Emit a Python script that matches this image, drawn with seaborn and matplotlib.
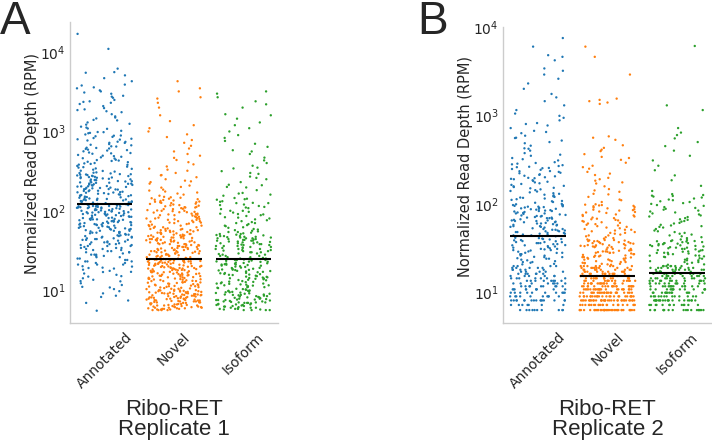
import numpy as np
import pandas as pd
import matplotlib
matplotlib.use("Agg")
import matplotlib.pyplot as plt
import seaborn as sns

groups = ["Annotated", "Novel", "Isoform"]
colors = ["#1f77b4", "#ff7f0e", "#2ca02c"]
panel_titles = ["Ribo-RET\nReplicate 1", "Ribo-RET\nReplicate 2"]
panel_letters = ["A", "B"]

# ---- Replicate 1 (RPM) ----
rep1_annotated = [
    5.5, 6.9, 7.4, 8.2, 9.1, 9.7,
    10.3, 10.8, 11.6, 12.2, 12.9, 13.5, 14.1, 14.8, 15.6, 16.2, 16.9, 17.5, 18.1, 18.7, 19.2, 19.8,
    20, 21, 21, 22, 22, 23, 24, 24, 25, 26, 26, 27, 28, 28, 29, 30, 31, 31, 32, 33, 33, 34, 35, 36,
    36, 37, 38, 38, 39, 40, 41, 41, 42, 43, 44, 44, 45, 46, 47, 47, 48, 49, 49, 50, 23, 27, 30, 34,
    37, 40, 43, 46,
    51, 52, 53, 54, 55, 56, 57, 58, 59, 60, 61, 62, 63, 64, 65, 66, 67, 68, 69, 70, 71, 72, 73, 74,
    75, 76, 77, 78, 79, 80, 82, 83, 84, 86, 87, 88, 90, 91, 92, 94, 95, 96, 98, 99, 100, 102, 103,
    105, 106, 108, 109, 111, 112, 114, 115, 117, 118, 120, 52, 56, 59, 63, 66, 70, 73, 77, 81, 85,
    89, 93, 97, 101, 104, 107, 110, 113, 116, 119, 54, 61, 67, 74, 79, 88, 96, 110,
    122, 125, 128, 130, 133, 136, 139, 142, 145, 148, 151, 154, 157, 160, 164, 167, 170, 174, 177,
    181, 185, 188, 192, 196, 200, 204, 208, 212, 216, 220, 225, 229, 234, 238, 243, 248, 253, 258,
    263, 268, 274, 279, 285, 290, 296, 124, 131, 138, 146, 153, 161, 169, 178, 186, 195, 205, 215,
    226, 237, 249, 261, 274, 287, 299, 127, 135, 143, 158, 172, 189, 203, 221, 244, 266, 282,
    305, 318, 330, 342, 355, 368, 382, 396, 410, 425, 440, 456, 472, 489, 506, 524, 543, 562, 582,
    603, 624, 646, 669, 693, 718, 743, 770, 797, 826, 855, 885, 917, 950, 984, 312, 350, 390, 436,
    480, 530, 590, 650, 720, 790, 870, 960, 415, 610,
    1020, 1080, 1150, 1220, 1300, 1380, 1460, 1550, 1650, 1750, 1860, 1970, 2090, 2220, 2360, 2500,
    2660, 2820, 2990, 1120, 1400, 1800, 2300, 2750,
    3100, 3300, 3600, 3900, 4300, 4700, 5100, 5500, 5600, 6200, 3200, 3800, 11000, 17000,
    8.5, 11, 13, 15, 17, 19, 21, 23, 25, 28, 30, 32, 34, 36, 38, 40, 43, 45, 48, 50, 53, 56, 58, 61,
    64, 67, 70, 72, 75, 78, 81, 84, 87, 90, 93, 96, 99, 102, 105, 108, 111, 113, 115, 117, 119,
    121, 126, 132, 137, 141, 149, 156, 163, 171, 179, 187, 194, 202, 210, 219, 228, 236, 246, 256,
    265, 276, 289, 302, 320, 338, 360, 380, 400, 430, 460, 495, 535, 575, 620, 680, 740, 810, 890,
    980, 1090, 1250, 1500, 1900, 2400, 3500,
]
rep1_novel = [
    5.6, 5.7, 5.8, 5.9, 6.0, 6.1, 6.2, 6.3, 6.4, 6.5, 6.6, 6.7, 6.8, 6.9, 7.0, 7.1, 7.2, 7.3, 7.4,
    7.5, 7.6, 7.7, 7.8, 7.9, 8.0, 8.1, 8.2, 8.3, 8.4, 8.5, 8.6, 8.7, 8.8, 8.9, 9.0, 9.1, 9.2, 9.3,
    9.4, 9.5, 9.6, 9.7, 9.8, 9.9, 5.6, 5.8, 6.0, 6.2, 6.4, 6.6, 6.9, 7.1, 7.4, 7.7, 8.0, 8.3, 8.6,
    8.9, 9.2, 9.5, 9.8, 5.7, 6.1, 6.5, 7.0, 7.5, 8.1, 8.7, 9.3, 9.9, 5.6, 6.3, 7.2, 8.4, 9.0, 5.9,
    6.7, 7.8,
    10, 10.3, 10.6, 10.9, 11.2, 11.5, 11.8, 12.1, 12.4, 12.7, 13, 13.3, 13.6, 13.9, 14.2, 14.5,
    14.8, 15.1, 15.4, 15.7, 16, 16.3, 16.6, 16.9, 17.2, 17.5, 17.8, 18.1, 18.4, 18.7, 19, 19.3,
    19.6, 19.9, 20.2, 20.5, 20.8, 21.1, 21.4, 21.7, 22, 22.3, 22.6, 22.9, 23.2, 23.5, 23.8, 24.1,
    24.4, 24.7, 10.1, 10.7, 11.3, 11.9, 12.5, 13.1, 13.7, 14.3, 14.9, 15.5, 16.1, 16.7, 17.3, 17.9,
    18.5, 19.1, 19.7, 20.3, 20.9, 21.5, 22.1, 22.7, 23.3, 23.9, 24.5, 10.4, 11.0, 11.7, 12.3, 13.0,
    13.8, 14.6, 15.3, 16.2, 17.0, 17.9, 18.8, 19.8, 20.8, 21.9, 23.0, 24.2, 10.5, 11.4, 12.6, 13.9,
    15.2, 16.8, 18.3, 20.1, 22.0, 24.0, 11.1, 13.4, 15.9, 19.0, 23.1,
    25, 26, 26, 27, 27, 28, 28, 29, 29, 30, 30, 31, 31, 32, 32, 33, 33, 34, 35, 35, 36, 36, 37, 38,
    38, 39, 40, 40, 41, 42, 42, 43, 44, 44, 45, 46, 47, 47, 48, 49, 50, 50, 51, 52, 53, 54, 55, 56,
    57, 58, 59, 60, 25, 27, 29, 31, 33, 35, 37, 39, 41, 43, 45, 48, 51, 54, 57, 26, 28, 30, 32, 34,
    37, 40, 43, 46, 49, 53, 56, 59, 27, 31, 34, 38, 42, 46, 52,
    61, 63, 65, 67, 69, 71, 73, 75, 77, 79, 81, 83, 85, 88, 90, 92, 95, 97, 100, 102, 105, 108, 111,
    114, 117, 120, 123, 126, 130, 133, 137, 140, 144, 148, 62, 66, 70, 74, 78, 82, 87, 91, 96, 101,
    106, 112, 118, 125, 131, 138, 146, 64, 72, 80, 89, 99, 110, 128,
    155, 165, 175, 185, 196, 208, 220, 235, 250, 265, 282, 300, 320, 340, 362, 385, 410, 437, 465,
    495, 170, 230,
    520, 560, 610, 660, 720, 780, 850, 920, 1000, 1100, 1200, 1350,
    1600, 2000, 2300, 2600, 2700, 3200, 3500, 4300,
    5.6, 5.7, 5.8, 5.9, 6.0, 6.2, 6.4, 6.6, 6.8, 7.0, 7.2, 7.4, 7.6, 7.8, 8.0, 8.2, 8.5, 8.8, 9.1,
    9.4, 9.7, 10.0, 10.4, 10.8, 11.2, 11.6, 12.0, 12.5, 13.0, 13.5, 14.0, 14.5, 15.0, 15.6, 16.2,
    16.8, 17.4, 18.0, 18.7, 19.4, 20.1, 20.8, 21.5, 22.2, 22.9, 23.6, 24.3, 24.9, 6.1, 7.3,
    25.5, 26.5, 27.5, 28.5, 29.5, 30.5, 31.5, 32.5, 33.5, 35, 36.5, 38, 39.5, 41, 42.5, 44, 45.5,
    47, 49, 51, 53, 55, 57, 59, 62, 65, 68, 71, 74, 77, 80, 84, 88, 92, 96, 100, 105, 110, 116, 122,
    128, 135, 142, 150, 160, 180, 200, 240, 280, 330,
]
rep1_isoform = [
    5.6, 5.7, 5.9, 6.0, 6.2, 6.3, 6.5, 6.6, 6.8, 6.9, 7.1, 7.2, 7.4, 7.5, 7.7, 7.8, 8.0, 8.2, 8.4,
    8.6, 8.8, 9.0, 9.2, 9.4, 9.6, 9.8, 5.6, 5.8, 6.1, 6.4, 6.7, 7.0, 7.3, 7.6, 7.9, 8.3, 8.7, 9.1,
    9.5, 9.9, 5.7, 6.0, 6.5, 7.0, 7.5, 8.1, 8.8, 9.3, 5.8, 6.2, 6.9, 7.6, 8.5, 9.7, 5.6, 6.6,
    10.2, 10.6, 11.0, 11.4, 11.8, 12.2, 12.6, 13.0, 13.5, 14.0, 14.5, 15.0, 15.5, 16.0, 16.5, 17.0,
    17.5, 18.0, 18.6, 19.2, 19.8, 20.4, 21.0, 21.6, 22.2, 22.8, 23.4, 24.0, 24.6, 10.4, 11.2, 12.0,
    12.8, 13.7, 14.7, 15.7, 16.8, 17.9, 19.1, 20.3, 21.5, 22.7, 23.9, 10.1, 10.9, 11.7, 12.5, 13.3,
    14.2, 15.2, 16.3, 17.4, 18.5, 19.6, 20.7, 21.8, 22.9, 24.3, 10.7, 12.1, 13.9, 15.9, 18.2, 20.9,
    23.6, 11.5, 14.4, 17.7, 21.2, 24.8,
    25, 26, 27, 28, 29, 30, 31, 32, 33, 34, 35, 36, 37, 38, 39, 40, 41, 42, 43, 44, 45, 46, 47, 48,
    49, 50, 26, 28, 30, 32, 34, 36, 38, 40, 42, 44, 46, 48, 27, 31, 35, 39, 43, 47, 25, 29, 33, 37,
    41, 45, 52, 56, 53, 58, 55, 51, 59, 54,
    62, 66, 70, 74, 78, 82, 86, 90, 95, 100, 105, 110, 115, 120, 126, 132, 138, 145, 64, 72, 80, 88,
    97, 108, 118, 130, 142, 68, 92, 125,
    155, 168, 182, 197, 213, 230, 250, 270, 292, 316, 342, 370, 400, 432, 468, 160, 210, 300,
    520, 580, 640, 700, 760, 830, 900, 1000, 1100, 1200, 1300, 1450,
    1600, 1650, 2000, 2200, 2400, 2700, 3000, 3200,
    5.6, 5.8, 6.0, 6.3, 6.6, 6.9, 7.2, 7.5, 7.8, 8.1, 8.4, 8.7, 9.0, 9.4, 9.8, 10.3, 10.9, 11.5,
    12.1, 12.7, 13.4, 14.1, 14.8, 15.6, 16.4, 17.2, 18.1, 19.0, 20.0, 21.0, 22.0, 23.0, 24.0, 24.6,
    7.0,
    25.5, 27, 28.5, 30, 31.5, 33, 34.5, 36, 37.5, 39, 40.5, 42, 43.5, 45, 46.5, 48, 49.5, 51, 54,
    57, 61, 65, 70, 76, 83, 91, 100, 112, 125, 140, 165, 200, 260, 350, 560,
]

# ---- Replicate 2: low counts sit on discrete RPM levels ----
rep2_levels = [6.3, 7.2, 8.1, 9.0, 9.9, 10.8, 11.7, 12.6, 13.5, 14.4, 15.3, 16.2, 17.1, 18.0, 18.9, 19.8]
rep2_annotated_level_counts = [10, 7, 16, 10, 10, 10, 9, 8, 8, 7, 6, 6, 5, 5, 5, 4]
rep2_novel_level_counts = [36, 24, 34, 24, 23, 22, 19, 16, 15, 13, 12, 11, 9, 9, 8, 8]
rep2_isoform_level_counts = [18, 13, 21, 13, 14, 14, 13, 12, 12, 10, 10, 9, 9, 8, 8, 7]

rep2_annotated_high = [
    20.7, 21.6, 22.5, 23.4, 24.3, 25.2, 26.1, 27, 27.9, 28.8, 29.7, 30.6, 31.5, 32.4, 33.3, 34.2,
    35.1, 36, 36.9, 37.8, 38.7, 39.6, 40.5, 41.4, 21, 22, 23, 24, 25, 26, 27, 28, 29, 30, 31, 32, 33,
    34, 35, 36, 37, 38, 39, 40, 41, 22, 25, 28, 31, 34, 37, 40, 24, 30, 36,
    43, 44, 45, 46, 47, 48, 49, 50, 51, 52, 54, 55, 56, 58, 59, 60, 62, 63, 65, 66, 68, 70, 71, 73,
    75, 77, 79, 81, 83, 85, 87, 89, 91, 93, 95, 97, 99, 44, 47, 50, 53, 57, 61, 64, 67, 72, 76, 80,
    84, 88, 92, 96, 100, 46, 52, 58, 64, 70, 78, 86, 94, 49, 62, 74, 90, 55, 69, 82,
    103, 107, 111, 115, 120, 125, 130, 135, 140, 146, 152, 158, 164, 171, 178, 185, 192, 200, 208,
    216, 225, 234, 243, 253, 263, 274, 285, 296, 105, 113, 122, 132, 143, 155, 168, 182, 197, 213,
    230, 248, 268, 290, 118, 160, 195, 205, 222, 260,
    310, 330, 350, 375, 400, 425, 455, 485, 520, 555, 590, 630, 670, 720, 770, 820, 880, 940, 990,
    360, 500, 650,
    1050, 1150, 1300, 1450, 1600, 1750, 2000, 2300, 2600, 2900,
    3200, 3400, 4200, 4600, 4800, 6000, 7500,
    45, 48, 51, 56, 60, 65, 69, 73, 78, 83, 88, 93, 97, 43, 108, 117, 127, 138, 150, 175, 190, 235,
    255, 280, 320, 420, 560, 800,
]
rep2_novel_high = [
    20.7, 21.6, 22.5, 23.4, 24.3, 25.2, 26.1, 27, 27.9, 28.8, 29.7, 30.6, 31.5, 32.4, 33.3, 34.2,
    35.1, 36, 36.9, 37.8, 38.7, 39.6, 21, 22, 23, 24, 25, 26, 27, 28, 29, 30, 31, 32, 33, 34, 35, 36,
    37, 38, 39, 22, 24, 26, 28, 30, 33, 36, 39, 21, 25, 29, 34, 38, 23,
    41, 43, 45, 47, 49, 51, 53, 55, 57, 60, 62, 65, 67, 70, 73, 76, 79, 82, 85, 89, 92, 96, 99, 42,
    46, 50, 54, 58, 63, 68, 74, 80, 87, 94, 44, 52, 61, 72, 84, 97, 48, 66,
    105, 112, 120, 128, 137, 147, 158, 170, 183, 197, 212, 230, 250, 270, 292, 315, 340, 365, 395,
    130, 175, 220,
    410, 430, 460, 530, 560, 580, 1350, 1400, 1500, 1550,
    2900, 4600, 6000, 1450,
    20.5, 21.5, 22.5, 23.5, 24.5, 25.5, 26.5, 27.5, 28.5, 29.5, 31, 32.5, 34, 35.5, 37, 38.5, 21.3,
    24.8, 28.1, 33.6, 40.5, 44, 47, 51, 56, 59, 64, 69, 75, 81, 86, 91, 95, 98, 110, 142, 190, 260,
    330,
]
rep2_isoform_high = [
    20.7, 21.6, 22.5, 23.4, 24.3, 25.2, 26.1, 27, 27.9, 28.8, 29.7, 30.6, 31.5, 32.4, 33.3, 34.2,
    35.1, 36, 36.9, 37.8, 38.7, 39.6, 21, 22, 23, 24, 25, 26, 27, 28, 29, 30, 31, 32, 33, 34, 35, 36,
    37, 38, 39, 24, 28, 32, 36, 22, 26, 30, 34, 38,
    41, 43, 45, 47, 49, 52, 54, 57, 60, 63, 66, 69, 72, 76, 80, 84, 88, 92, 97, 102, 107, 112, 118,
    124, 129, 42, 46, 50, 55, 61, 67, 74, 82, 90, 100, 110, 121, 44, 58, 71, 95, 115, 126,
    140, 160, 185, 210, 240, 270, 310, 350, 400, 450, 500, 550, 600,
    640, 720, 1150, 1300, 6100,
    20.5, 23, 25.5, 27.5, 29, 31, 33.5, 35.5, 37.5, 48, 56, 64, 78, 86, 105, 123,
]

rep2_annotated = list(np.repeat(rep2_levels, rep2_annotated_level_counts)) + rep2_annotated_high
rep2_novel = list(np.repeat(rep2_levels, rep2_novel_level_counts)) + rep2_novel_high
rep2_isoform = list(np.repeat(rep2_levels, rep2_isoform_level_counts)) + rep2_isoform_high

replicates = [
    [rep1_annotated, rep1_novel, rep1_isoform],
    [rep2_annotated, rep2_novel, rep2_isoform],
]

sns.set_style("white")
plt.rcParams["font.family"] = ["DejaVu Sans"]

fig = plt.figure(figsize=(7.12, 4.47), dpi=100)
W, H = 712, 447
# axes boxes in pixels: left, top, right, bottom
boxes = [(70, 22, 278, 323), (503, 27, 712, 323)]
ylims = [(3.85, 24000), (4.5, 10000)]
letter_x = [0, 417]

for k in range(2):
    l, t, r, b = boxes[k]
    ax = fig.add_axes([l / W, 1 - b / H, (r - l) / W, (b - t) / H])
    frames = []
    for g, vals in zip(groups, replicates[k]):
        frames.append(pd.DataFrame({"group": g, "rpm": vals}))
    df = pd.concat(frames, ignore_index=True)

    ax.set_yscale("log")
    sns.stripplot(data=df, x="group", y="rpm", hue="group", order=groups,
                  palette=colors, jitter=0.4, size=1.7, linewidth=0,
                  legend=False, ax=ax, zorder=2)
    med = df.groupby("group")["rpm"].median()
    for i, g in enumerate(groups):
        ax.hlines(med[g], i - 0.4, i + 0.4, color="black", lw=1.5, zorder=5)

    ax.set_ylim(*ylims[k])
    ax.set_xlim(-0.5, 2.5)
    ax.set_xlabel("")
    ax.set_ylabel("Normalized Read Depth (RPM)", fontsize=10.5)
    ax.yaxis.set_label_coords(-0.145, 0.53)
    ax.minorticks_off()
    ax.tick_params(axis="y", length=0, labelsize=10, pad=3)
    ax.tick_params(axis="x", length=3, color="#cccccc", labelsize=10, pad=2)
    plt.setp(ax.get_xticklabels(), rotation=45)
    for side in ["top", "right"]:
        ax.spines[side].set_visible(False)
    for side in ["left", "bottom"]:
        ax.spines[side].set_color("#cccccc")
        ax.spines[side].set_linewidth(1)

    cx = (l + r) / 2 / W
    fig.text(cx, 1 - 399 / H, panel_titles[k], ha="center", va="top",
             fontsize=16, linespacing=0.95, family="Liberation Sans")
    fig.text(letter_x[k] / W, 1.0, panel_letters[k], ha="left", va="top",
             fontsize=33, family="Liberation Sans")

fig.savefig("out.png", dpi=100)
